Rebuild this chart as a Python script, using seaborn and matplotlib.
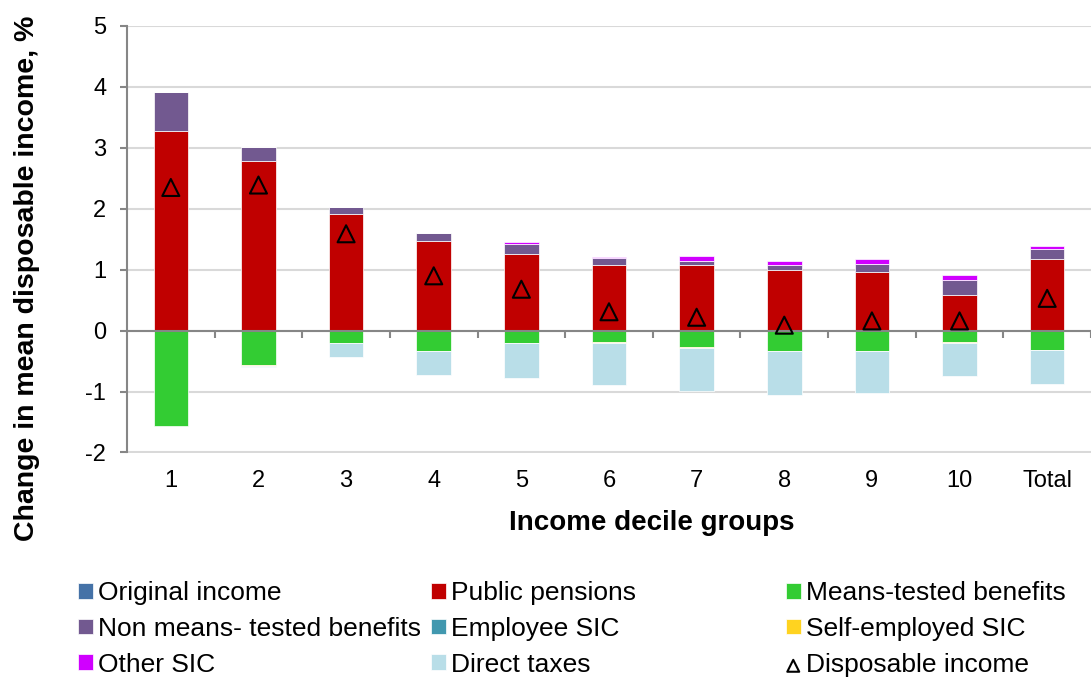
import numpy as np
import matplotlib
matplotlib.use('Agg')
import matplotlib.pyplot as plt
import seaborn as sns

categories = ['1', '2', '3', '4', '5', '6', '7', '8', '9', '10', 'Total']

original_income = [0, 0, 0, 0, 0, 0, 0, 0, 0, 0, 0]
public_pensions = [3.28, 2.79, 1.92, 1.47, 1.25, 1.07, 1.08, 1.00, 0.97, 0.58, 1.18]
means_tested = [-1.56, -0.57, -0.21, -0.33, -0.20, -0.19, -0.27, -0.33, -0.33, -0.19, -0.31]
non_means_tested = [0.64, 0.22, 0.11, 0.13, 0.18, 0.12, 0.06, 0.07, 0.13, 0.25, 0.16]
employee_sic = [0, 0, 0, 0, 0, 0, 0, 0, 0, 0, 0]
self_employed_sic = [0, -0.01, 0, -0.01, -0.01, -0.01, -0.01, -0.01, -0.01, -0.01, -0.01]
other_sic = [0, 0, 0, 0.01, 0.02, 0.02, 0.08, 0.07, 0.07, 0.09, 0.05]
direct_taxes = [0, -0.01, -0.23, -0.38, -0.56, -0.70, -0.71, -0.72, -0.68, -0.55, -0.55]
disposable_income = [2.35, 2.39, 1.59, 0.90, 0.68, 0.31, 0.22, 0.09, 0.16, 0.16, 0.53]

series = [
    ('Original income', original_income, '#4572A7'),
    ('Public pensions', public_pensions, '#C00000'),
    ('Means-tested benefits', means_tested, '#33CC33'),
    ('Non means- tested benefits', non_means_tested, '#725990'),
    ('Employee SIC', employee_sic, '#4198AF'),
    ('Self-employed SIC', self_employed_sic, '#FFD320'),
    ('Other SIC', other_sic, '#D000FF'),
    ('Direct taxes', direct_taxes, '#B9DEE8'),
]

sns.set_theme(style="white")
plt.rcParams['font.family'] = ['Liberation Sans', 'DejaVu Sans']
plt.rcParams['axes.unicode_minus'] = False
plt.rcParams['text.color'] = 'black'
plt.rcParams['axes.labelcolor'] = 'black'
plt.rcParams['xtick.color'] = 'black'
plt.rcParams['ytick.color'] = 'black'

fig = plt.figure(figsize=(10.91, 6.79), dpi=100)
ax = fig.add_axes([127 / 1091, 1 - 452.5 / 679, 1 - 127 / 1091, (452.5 - 26) / 679])

# stack positives and negatives separately, like Excel does
pos_base = np.zeros(len(categories))
neg_base = np.zeros(len(categories))
handles = []
for name, vals, color in series:
    vals = np.array(vals, dtype=float)
    bottom = np.where(vals >= 0, pos_base, neg_base)
    sns.barplot(x=categories, y=vals, bottom=bottom, color=color, saturation=1,
                width=0.395, errorbar=None, edgecolor='white', linewidth=0.5,
                label=name, ax=ax)
    handles.append(ax.containers[-1])
    pos_base += np.clip(vals, 0, None)
    neg_base += np.clip(vals, None, 0)

sns.scatterplot(x=np.arange(len(categories)), y=disposable_income, marker='^', s=150,
                facecolor='none', edgecolor='black', linewidth=1.5,
                label='Disposable income', ax=ax, zorder=5)
handles.append(ax.collections[-1])
if ax.get_legend():
    ax.get_legend().remove()

# axes styling
ax.set_ylim(-2, 5)
ax.set_xlim(-0.5, 10.37)
ax.set_yticks(range(-2, 6))
ax.yaxis.grid(True, color='#D9D9D9', linewidth=1.5)
ax.set_axisbelow(True)
for s in ['top', 'right']:
    ax.spines[s].set_visible(False)
for s in ['left', 'bottom']:
    ax.spines[s].set_color('#868686')
    ax.spines[s].set_linewidth(1.5)
ax.spines['bottom'].set_position(('data', 0))

ax.set_xticks(range(len(categories)))
ax.set_xticklabels(categories)
ax.set_xticks(np.arange(0.5, len(categories), 1), minor=True)
ax.tick_params(axis='x', which='major', length=0, pad=100, labelsize=17, labelcolor='black')
ax.tick_params(axis='x', which='minor', bottom=True, direction='out', length=5, width=1.5, color='#868686')
ax.tick_params(axis='y', left=True, direction='out', length=5, width=1.5, color='#868686',
               pad=10, labelsize=17, labelcolor='black')

ax.set_xlabel('Income decile groups', fontsize=20, fontweight='bold', color='black')
ax.xaxis.set_label_coords((652 - 127) / 964, (452.5 - 510) / 426.5)
ax.set_ylabel('Change in mean disposable income, %', fontsize=20.5, fontweight='bold', color='black')
ax.yaxis.label.set_verticalalignment('center')
ax.yaxis.set_label_coords((27 - 127) / 964, (452.5 - 278) / 426.5)

# legend: three columns of equal width
col_x = [78 / 1091, 431 / 1091, 786 / 1091]
labels = [s[0] for s in series] + ['Disposable income']
for c in range(3):
    idx = [c, c + 3, c + 6]
    fig.legend([handles[i] for i in idx], [labels[i] for i in idx],
               loc='upper left', bbox_to_anchor=(col_x[c], 1 - 581 / 679),
               frameon=False, fontsize=19, borderpad=0, borderaxespad=0,
               handlelength=0.55, handleheight=0.55, handletextpad=0.2,
               labelspacing=0.45, markerscale=0.7, labelcolor='black')

fig.savefig('out.png', dpi=100)
